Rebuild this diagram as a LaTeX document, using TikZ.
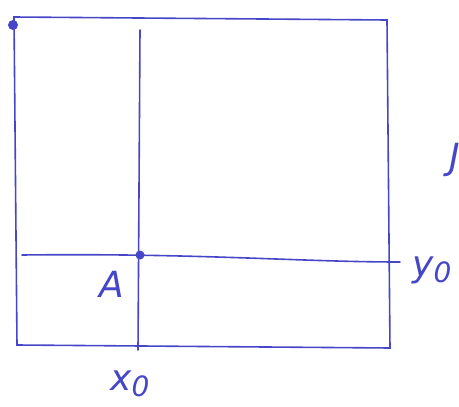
\documentclass[tikz,border=0pt]{standalone}
\usepackage{fontspec}
\setmainfont{DejaVu Sans}
\definecolor{pen}{RGB}{70,70,200}
\newcommand{\subz}{\raisebox{-6pt}{\fontsize{28}{28}\selectfont 0}}
\tikzset{penline/.style={draw=pen, line width=1.6pt, line cap=round},
  handtext/.style={text=pen, font=\fontsize{36}{36}\selectfont\itshape, inner sep=0pt}}
\begin{document}
\begin{tikzpicture}[x=1pt,y=-1pt]
\useasboundingbox (0,0) rectangle (459,407);
% rectangle corners
\coordinate (tl) at (14,17);
\coordinate (tr) at (387,20);
\coordinate (br) at (390,348);
\coordinate (bl) at (17,345);
\draw[penline] (tl) -- (tr) -- (br) -- (bl) -- cycle;
% vertical x0 line
\coordinate (vt) at (140,30);
\coordinate (vb) at (138,350);
\draw[penline] (vt) -- (vb);
% horizontal y0 line
\coordinate (hl) at (22,255);
\coordinate (hr) at (400,262);
\draw[penline] (hl) .. controls (200,253) and (300,262) .. (hr);
% point A
\coordinate (A) at (140,255);
\fill[pen] (A) circle (4.5);
\fill[pen] (13,25) circle (5);
% labels
\node[handtext] (lA) at (112,284) {A};
\node[handtext] (ly) at (432,270) {y\subz};
\node[handtext] (lx) at (130,384) {x\subz};
\node[handtext] (lJ) at (455,160) {J};
\end{tikzpicture}
\end{document}
